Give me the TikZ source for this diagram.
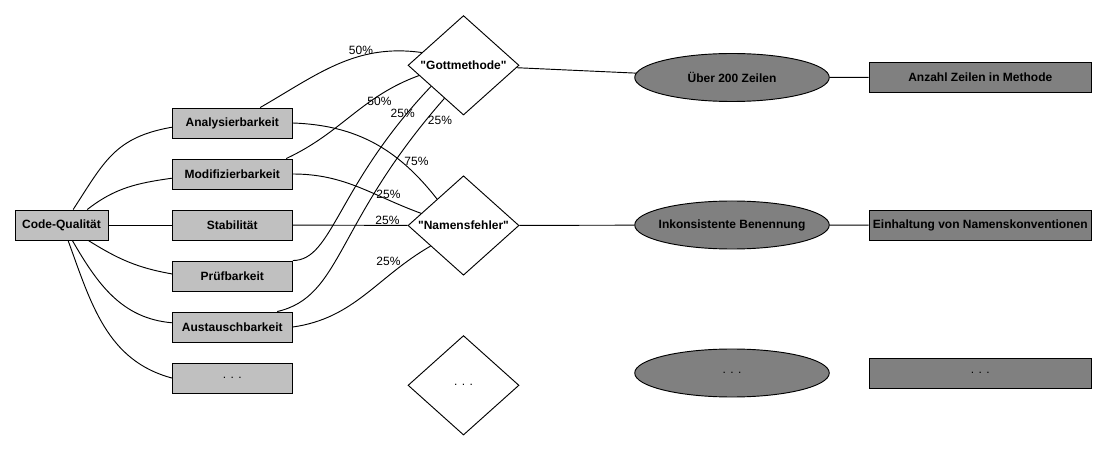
\documentclass[tikz,border=0pt]{standalone}
\usepackage{fontspec}
\setmainfont{Liberation Sans}
\usepackage{tikz}
\usetikzlibrary{shapes.geometric}
\definecolor{qgray}{RGB}{192,192,192}
\definecolor{mgray}{RGB}{128,128,128}

\begin{document}
\begin{tikzpicture}[x=0.75pt,y=0.75pt,line width=0.7pt,
  font=\fontsize{9}{11}\selectfont,
  kbox/.style={draw,fill=qgray,minimum width=90pt,minimum height=22.5pt,inner sep=0pt,font=\fontsize{9}{11}\selectfont\bfseries},
  dia/.style={draw,diamond,shape aspect=1.1,minimum width=83.25pt,minimum height=74.6pt,inner sep=0pt,font=\fontsize{9}{11}\selectfont\bfseries},
  ell/.style={draw,ellipse,fill=mgray,minimum width=145.9pt,minimum height=36pt,inner xsep=-6pt,inner ysep=0pt,font=\fontsize{9}{11}\selectfont\bfseries},
  mbox/.style={draw,fill=mgray,minimum width=166.9pt,minimum height=22.5pt,inner sep=0pt,font=\fontsize{9}{11}\selectfont\bfseries},
  pct/.style={inner sep=0pt}]
  \useasboundingbox (0,0) rectangle (1106,450);
  % Merkmale
  \node[kbox,minimum width=69.75pt] (cq) at (61.5,225) {Code-Qualität};
  \foreach \n/\y/\t in {ana/327/Analysierbarkeit, mod/276/Modifizierbarkeit, sta/225/Stabilität,
      pru/174/Prüfbarkeit, aus/123/Austauschbarkeit}
    \node[kbox] (\n) at (232.3,\y) {\t};
  \node[kbox,font=\fontsize{9}{11}\selectfont] (more) at (232.3,72) {. . .};
  % Fehlermuster
  \node[dia] (gott) at (463.5,384.7) {\textquotedbl Gottmethode\textquotedbl};
  \node[dia] (nam) at (463.5,224.5) {\textquotedbl Namensfehler\textquotedbl};
  \node[dia,font=\fontsize{9}{11}\selectfont] (diamore) at (463.5,64.7) {. . .};
  % Indikatoren und Metriken
  \node[ell] (zeilen) at (732,372.5) {Über 200 Zeilen};
  \node[ell] (benenn) at (732,225) {Inkonsistente Benennung};
  \node[ell,font=\fontsize{9}{11}\selectfont] (ellmore) at (732,77) {. . .};
  \node[mbox] (anzahl) at (980.3,372.7) {Anzahl Zeilen in Methode};
  \node[mbox] (konv) at (980.3,224.7) {Einhaltung von Namenskonventionen};
  \node[mbox,font=\fontsize{9}{11}\selectfont] (mboxmore) at (980.3,76.7) {. . .};
  % Code-Qualitaet -> Merkmale
  \draw (cq.53) to[out=57,in=190,looseness=1.15] (ana.184);
  \draw (cq.31) to[out=38,in=188] (mod.184);
  \draw (cq) -- (sta);
  \draw (cq.-30) to[out=-32,in=170] (pru.178);
  \draw (cq.-55) to[out=-60,in=175] (aus.176);
  \draw (cq.-67) to[out=-70,in=165] (more.180);
  % Merkmale -> Fehlermuster
  \draw (ana.29) to[out=30,in=172] (gott.163);
  \draw (mod.16) to[out=25,in=200] (gott.193);
  \draw (pru.north east) .. controls +(40,0) and +(-95,-100) .. (gott.213);
  \draw (aus.19) .. controls +(65,15) and +(-110,-125) .. (gott.240);
  \draw (ana.east) to[out=-2,in=128] (nam.135);
  \draw (mod.east) to[out=0,in=160] (nam.164);
  \draw (sta) -- (nam);
  \draw (aus.east) to[out=8,in=210] (nam.212);
  % Gewichte
  \foreach \lx/\ly/\lt [count=\i] in {361/400/50, 379.5/348.3/50, 402.7/337/25, 440/330/25,
      416.5/289/75, 388.5/255.7/25, 387.5/229.3/25, 388.5/189/25}
    \node[pct] (pct\i) at (\lx,\ly) {\lt\%};
  % Fehlermuster -> Indikatoren -> Metriken
  \draw (gott) -- (zeilen);
  \draw (nam) -- (benenn);
  \draw (zeilen) -- (anzahl);
  \draw (benenn) -- (konv);
\end{tikzpicture}
\end{document}
